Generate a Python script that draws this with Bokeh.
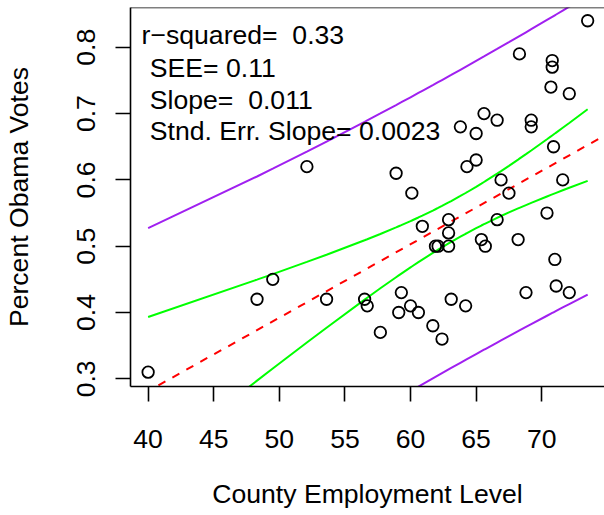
import numpy as np
from bokeh.plotting import figure
from bokeh.models import Label, FixedTicker, Range1d, Span
from bokeh.embed import file_html
from bokeh.resources import INLINE

# ---- data ----
emp = [40.0, 48.3, 49.5, 52.1, 53.6, 56.5, 56.7, 57.7, 58.9, 59.1, 59.3, 60.0, 60.1,
       60.6, 60.9, 61.7, 61.9, 62.1, 62.4, 62.9, 62.9, 62.9, 63.1, 63.8, 64.2, 64.3,
       65.0, 65.0, 65.4, 65.6, 65.7, 66.6, 66.6, 66.9, 67.5, 68.2, 68.3, 68.8, 69.2,
       69.2, 70.4, 70.7, 70.8, 70.8, 70.9, 71.0, 71.1, 71.6, 72.1, 72.1, 73.5]
votes = [0.31, 0.42, 0.45, 0.62, 0.42, 0.42, 0.41, 0.37, 0.61, 0.40, 0.43, 0.41, 0.58,
         0.40, 0.53, 0.38, 0.50, 0.50, 0.36, 0.54, 0.52, 0.50, 0.42, 0.68, 0.41, 0.62,
         0.67, 0.63, 0.51, 0.70, 0.50, 0.69, 0.54, 0.60, 0.58, 0.51, 0.79, 0.43, 0.69,
         0.68, 0.55, 0.74, 0.78, 0.77, 0.65, 0.48, 0.44, 0.60, 0.73, 0.43, 0.84]
x_ticks = [40, 45, 50, 55, 60, 65, 70]
y_ticks = [0.3, 0.4, 0.5, 0.6, 0.7, 0.8]
stat_text = ["r\u2212squared=\u00a0 0.33", "SEE= 0.11", "Slope=\u00a0 0.011",
             "Stnd. Err. Slope= 0.0023"]
x_title = "County Employment Level"
y_title = "Percent Obama Votes"

# ---- ordinary least squares fit with 95% bands ----
x = np.array(emp)
y = np.array(votes)
n = len(x)
b1, b0 = np.polyfit(x, y, 1)
resid = y - (b0 + b1 * x)
see = np.sqrt(np.sum(resid ** 2) / (n - 2))
xbar = x.mean()
sxx = np.sum((x - xbar) ** 2)
tq = 2.0096  # t quantile, 0.975, df = n - 2
xs = np.sort(x)
fit = b0 + b1 * xs
ci = tq * see * np.sqrt(1.0 / n + (xs - xbar) ** 2 / sxx)
pi_ = tq * see * np.sqrt(1.0 + 1.0 / n + (xs - xbar) ** 2 / sxx)

FONT = "Liberation Sans"
FS = "26.6px"
xr = Range1d(38.656, 74.784)
yr = Range1d(0.2884, 0.8600)

p = figure(width=604, height=515, x_range=xr, y_range=yr,
           output_backend="svg", toolbar_location=None,
           min_border_left=130, min_border_right=0, min_border_top=7,
           min_border_bottom=129)
p.grid.visible = False
p.background_fill_color = "white"
p.border_fill_color = "white"
p.outline_line_color = None

for ax in (p.xaxis[0], p.yaxis[0]):
    ax.major_tick_in = 0
    ax.major_tick_out = 15
    ax.minor_tick_line_color = None
    ax.major_tick_line_width = 1.6
    ax.axis_line_width = 1.6
    ax.axis_line_color = "black"
    ax.major_label_text_font = FONT
    ax.major_label_text_font_size = FS
    ax.major_label_text_color = "black"
    ax.axis_label_text_font = FONT
    ax.axis_label_text_font_size = FS
    ax.axis_label_text_font_style = "normal"
    ax.axis_label_text_color = "black"

p.xaxis.ticker = FixedTicker(ticks=x_ticks)
p.yaxis.ticker = FixedTicker(ticks=y_ticks)
p.xaxis.major_label_standoff = 28
p.yaxis.major_label_standoff = 20
p.yaxis.major_label_orientation = "parallel"
p.xaxis.axis_label = x_title
p.yaxis.axis_label = y_title
p.xaxis.axis_label_standoff = 28
p.yaxis.axis_label_standoff = 41

# top edge of the plotting box (the right edge lies beyond the picture)
p.add_layout(Span(location=yr.end, dimension="width", line_color="black",
                  line_width=1.6))

# regression line across the whole plotting range
xl = np.array([xr.start, xr.end])
p.line(xl, b0 + b1 * xl, line_color="#FF0000", line_width=2, line_dash="8 8")
# confidence band
p.line(xs, fit + ci, line_color="#00FF00", line_width=2)
p.line(xs, fit - ci, line_color="#00FF00", line_width=2)
# prediction band
p.line(xs, fit + pi_, line_color="#A020F0", line_width=2)
p.line(xs, fit - pi_, line_color="#A020F0", line_width=2)

p.scatter(emp, votes, marker="circle", size=11.5, fill_color=None,
          line_color="black", line_width=1.8)

label_pos = [(39.5, 0.8178), (40.13, 0.7695), (40.13, 0.7208), (40.13, 0.6730)]
for (lx, ly), t in zip(label_pos, stat_text):
    p.add_layout(Label(x=lx, y=ly, text=t, text_font=FONT, text_font_size=FS,
                       text_baseline="alphabetic", text_align="left",
                       text_color="black"))

open("out.html", "w").write(file_html(p, INLINE))
